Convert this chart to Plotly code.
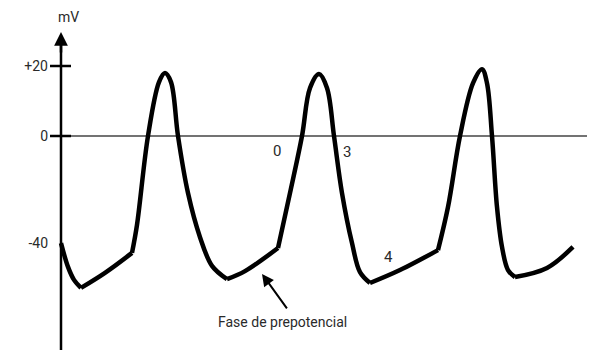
import plotly.graph_objects as go

# Schematic pacemaker action potential (drawing units: time axis, voltage axis)
# Segments separated by None so that corners (kinks) stay sharp.
time = [
    0.00, 0.07, 0.13, 0.20, None,
    0.20, 0.44, 0.71, None,
    0.71, 0.76, 0.87, 0.98, 1.04, 1.10, 1.17, 1.27, 1.39, 1.51, 1.66, None,
    1.66, 1.84, 2.17, None,
    2.17, 2.29, 2.41, 2.49, 2.58, 2.66, 2.73, 2.81, 2.91, 2.99, 3.09, None,
    3.09, 3.39, 3.77, None,
    3.77, 3.87, 3.99, 4.12, 4.21, 4.26, 4.31, 4.36, 4.41, 4.47, 4.54, None,
    4.54, 4.86, 5.12,
]
voltage = [
    -30.6, -37.4, -41.1, -43.4, None,
    -43.4, -39.1, -33.4, None,
    -33.4, -25.4, 0.0, 15.4, 18.0, 15.4, 0.0, -16.3, -28.9, -37.1, -40.9, None,
    -40.9, -38.6, -32.0, None,
    -32.0, -16.3, 0.0, 13.7, 17.7, 13.7, 0.0, -16.3, -30.6, -38.9, -42.0, None,
    -42.0, -38.3, -32.6, None,
    -32.6, -20.3, 0.0, 15.1, 19.1, 15.1, 0.0, -20.3, -31.7, -38.3, -40.3, None,
    -40.3, -37.7, -31.7,
]

tick_values = [20, 0, -30.6]
tick_labels = ["+20", "0", "-40"]

phase_labels = ["0", "3", "4"]
phase_t = [2.16, 2.86, 3.27]
phase_v = [-4.3, -4.6, -34.6]

FONT = "Liberation Sans Narrow, Roboto, Arial, sans-serif"
TXT = "#2a2a2a"

# the page adds an 8px body margin; the figure is sized/ranged to compensate
W, H, OFF = 587, 342, 8

fig = go.Figure()
fig.add_trace(go.Scatter(
    x=time, y=voltage, mode="lines",
    line=dict(color="black", width=4.5, shape="spline", smoothing=1.0),
    connectgaps=False, hoverinfo="skip", showlegend=False,
))

# zero reference line
fig.add_shape(type="line", x0=0, x1=5.31, y0=0, y1=0,
              line=dict(color="#444444", width=1.5), layer="below")
# vertical axis line
fig.add_shape(type="line", x0=0, x1=0, y0=-62, y1=26,
              line=dict(color="black", width=2.5))
# tick marks crossing the axis
for tv in tick_values[:2]:
    fig.add_shape(type="line", x0=-0.11, x1=0.10, y0=tv, y1=tv,
                  line=dict(color="black", width=2.5))

# arrow head of y axis
fig.add_annotation(x=0, y=29.7, ax=0, ay=22, xref="x", yref="y",
                   showarrow=True, arrowhead=2, arrowsize=1.1, arrowwidth=2.5,
                   arrowcolor="black", text="", standoff=0)
fig.add_annotation(x=0.07, y=34.0, text="mV", showarrow=False,
                   font=dict(family=FONT, size=14, color=TXT))

for lab, t, v in zip(phase_labels, phase_t, phase_v):
    fig.add_annotation(x=t, y=v, text=lab, showarrow=False,
                       font=dict(family=FONT, size=15, color=TXT))

# prepotential annotation
fig.add_annotation(x=2.01, y=-39.4, ax=26, ay=36, xref="x", yref="y",
                   showarrow=True, arrowhead=2, arrowsize=1.2, arrowwidth=2,
                   arrowcolor="black", text="", standoff=0)
fig.add_annotation(x=2.21, y=-53.1, text="Fase de prepotencial", showarrow=False,
                   font=dict(family=FONT, size=14, color=TXT))

fig.update_layout(
    width=W, height=H,
    margin=dict(l=0, r=0, t=0, b=0),
    paper_bgcolor="white", plot_bgcolor="white",
    xaxis=dict(range=[(OFF - 61) / 100, (595 - 61) / 100], visible=False),
    yaxis=dict(range=[(136 - 350) / 3.5, (136 - OFF) / 3.5], anchor="free",
               position=(61 - OFF) / W,
               showline=False, showgrid=False, zeroline=False, ticks="",
               tickvals=tick_values, ticktext=tick_labels,
               ticklabelstandoff=13,
               tickfont=dict(family=FONT, size=14, color=TXT)),
)

fig.write_html("out.html")
